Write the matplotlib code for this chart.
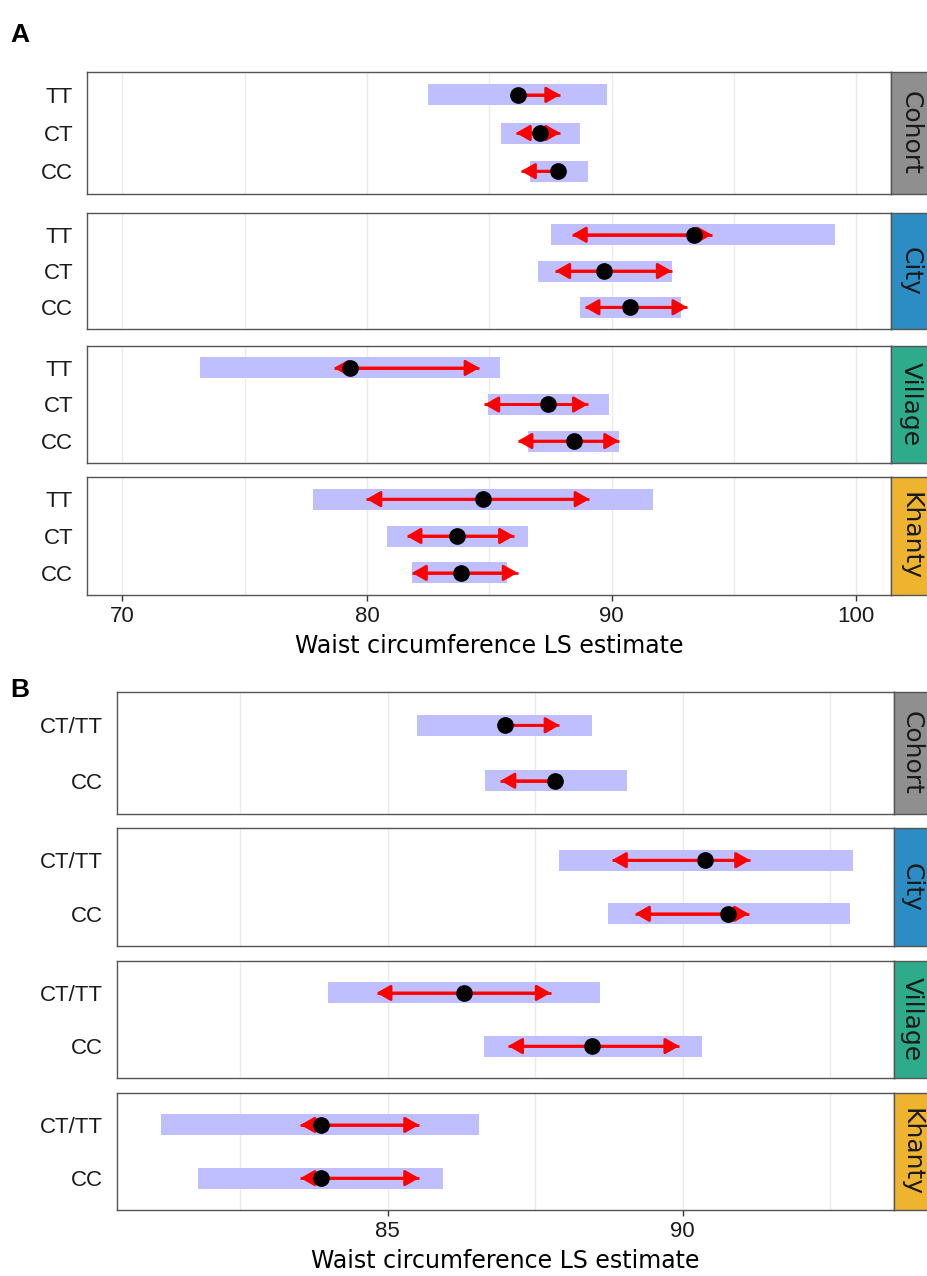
import matplotlib
matplotlib.use("Agg")
import matplotlib.pyplot as plt

# ---- data ----
groups = ["Cohort", "City", "Village", "Khanty"]
strip_colors = ["#8F8F8F", "#2C8CC4", "#2DAB8A", "#EEB32F"]

# panel A: three genotypes, top to bottom
geno_a = ["TT", "CT", "CC"]
est_a = [[86.16, 87.08, 87.80], [93.36, 89.69, 90.75],
         [79.30, 87.42, 88.45], [84.73, 83.67, 83.86]]
lcl_a = [[82.49, 85.50, 86.67], [87.54, 86.98, 88.72],
         [73.16, 84.95, 86.57], [77.80, 80.82, 81.84]]
ucl_a = [[89.83, 88.72, 89.03], [99.13, 92.46, 92.83],
         [85.43, 89.88, 90.31], [91.69, 86.57, 85.72]]
arr_lo_a = [[86.16, 86.09, 86.30], [88.38, 87.70, 88.90],
            [78.65, 84.80, 86.16], [79.98, 81.62, 81.84]]
arr_hi_a = [[87.90, 87.90, 87.80], [94.10, 92.46, 93.10],
            [84.60, 89.03, 90.31], [89.10, 86.01, 86.16]]

# panel B: dominant model
geno_b = ["CT/TT", "CC"]
est_b = [[86.98, 87.83], [90.37, 90.77], [86.29, 88.46], [83.86, 83.86]]
lcl_b = [[85.49, 86.64], [87.90, 88.73], [83.98, 86.63], [81.15, 81.79]]
ucl_b = [[88.46, 89.05], [92.88, 92.83], [88.60, 90.32], [86.54, 85.93]]
arr_lo_b = [[86.98, 86.91], [88.80, 89.19], [84.81, 87.04], [83.52, 83.52]]
arr_hi_b = [[87.91, 87.83], [91.14, 91.12], [87.76, 89.94], [85.53, 85.53]]

W, H = 928, 1276
fig = plt.figure(figsize=(W / 100, H / 100), dpi=100)
fig.patch.set_facecolor("white")


def rect(l, t, r, b):
    return [l / W, 1 - b / H, (r - l) / W, (b - t) / H]


def draw_panel(x0, x1, tops, xlim, major, minor, genos, est, lcl, ucl, lo, hi):
    axes = []
    n = len(genos)
    for k, (t, b) in enumerate(tops):
        ax = fig.add_axes(rect(x0, t, x1, b))
        ax.set_xlim(*xlim)
        ax.set_ylim(n + 0.6, 0.4)
        for v in major + minor:
            ax.axvline(v, color="#EBEBEB", lw=1.0, zorder=0)
        bar_h = 21 / ((b - t) / (n + 0.2))
        ys = list(range(1, n + 1))
        ax.barh(ys, [u - l for l, u in zip(lcl[k], ucl[k])], left=lcl[k],
                height=bar_h, color="#BFBFFF", zorder=1)
        for y, e, a, z in zip(ys, est[k], lo[k], hi[k]):
            ax.plot([a, z], [y, y], color="red", lw=2, zorder=2,
                    solid_capstyle="butt")
            for end in (a, z):
                if abs(end - e) > 1e-6:
                    ax.annotate("", xy=(end, y), xytext=(e, y),
                                arrowprops=dict(arrowstyle="-|>,head_length=0.7,head_width=0.4",
                                                color="red", lw=2, shrinkA=0, shrinkB=0,
                                                mutation_scale=12), zorder=2)
        ax.plot(est[k], ys, "o", color="black", ms=11, zorder=3)
        ax.set_yticks(ys)
        ax.set_yticklabels(genos, fontsize=16, family="Liberation Sans", color="#1A1A1A")
        ax.set_xticks(major)
        ax.tick_params(axis="y", length=0, pad=10)
        ax.tick_params(axis="x", length=4, color="#333333", width=1, pad=4)
        for s in ax.spines.values():
            s.set_color("#555555")
            s.set_linewidth(1.0)
        if k < len(tops) - 1:
            ax.set_xticklabels([])
            ax.tick_params(axis="x", length=0)
        else:
            ax.set_xticklabels([f"{v:g}" for v in major], fontsize=16,
                               family="Liberation Sans", color="#1A1A1A")
        # facet strip on the right
        sax = fig.add_axes(rect(x1, t, W + 2, b))
        sax.set_facecolor(strip_colors[k])
        sax.set_xticks([])
        sax.set_yticks([])
        for s in sax.spines.values():
            s.set_color("#555555")
            s.set_linewidth(1.0)
        sax.text(0.5, 0.5, groups[k], rotation=270, ha="center", va="center",
                 fontsize=18, color="#1A1A1A", transform=sax.transAxes)
        axes.append(ax)
    return axes


tops_a = [(72, 194), (213, 329), (346, 463), (477, 595)]
axes_a = draw_panel(87, 891, tops_a, (68.55, 101.43), [70, 80, 90, 100], [75, 85, 95],
                    geno_a, est_a, lcl_a, ucl_a, arr_lo_a, arr_hi_a)
axes_a[-1].set_xlabel("Waist circumference LS estimate", fontsize=17, labelpad=5)

tops_b = [(692, 814), (828, 946), (961, 1078), (1093, 1210)]
axes_b = draw_panel(117, 894, tops_b, (80.41, 93.58), [85, 90], [82.5, 87.5, 92.5],
                    geno_b, est_b, lcl_b, ucl_b, arr_lo_b, arr_hi_b)
axes_b[-1].set_xlabel("Waist circumference LS estimate", fontsize=17, labelpad=5)

fig.text(10 / W, 1 - 42 / H, "A", fontsize=19, fontweight="bold", family="Liberation Sans")
fig.text(10 / W, 1 - 697 / H, "B", fontsize=19, fontweight="bold", family="Liberation Sans")

fig.savefig("out.png", dpi=100)
